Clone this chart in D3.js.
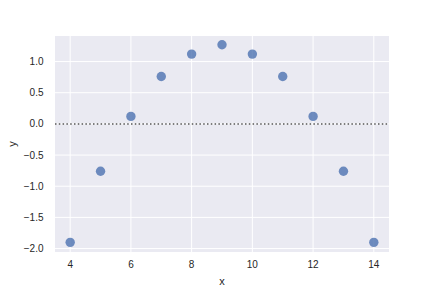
<!DOCTYPE html>
<html lang="en">
<head>
    <meta charset="utf-8">
    <title>Residual plot</title>
    <script src="https://d3js.org/d3.v7.min.js"></script>
    <style>
        html, body { margin: 0; padding: 0; background: white; }
        svg { display: block; font-family: Arial, "Liberation Sans", sans-serif; }
        .tick-label { font-size: 10px; fill: #262626; }
        .axis-label { font-size: 11px; fill: #262626; }
    </style>
</head>
<body>
    <div id="chart"></div>
    <script>
        // Data
        var xValues = [4, 5, 6, 7, 8, 9, 10, 11, 12, 13, 14];
        var yValues = [-1.90, -0.76, 0.12, 0.76, 1.12, 1.27, 1.12, 0.76, 0.12, -0.76, -1.90];
        var xTicks = [4, 6, 8, 10, 12, 14];
        var yTicks = [-2.0, -1.5, -1.0, -0.5, 0.0, 0.5, 1.0];

        var width = 432, height = 288;
        var margin = {top: 36, right: 43, bottom: 36, left: 55};

        var svg = d3.select("#chart").append("svg")
            .attr("width", width)
            .attr("height", height);

        var x = d3.scaleLinear()
            .domain([3.5, 14.5])
            .range([margin.left, width - margin.right]);

        var y = d3.scaleLinear()
            .domain([-2.055, 1.41])
            .range([height - margin.bottom, margin.top]);

        // Axes background
        svg.append("rect")
            .attr("x", margin.left)
            .attr("y", margin.top)
            .attr("width", width - margin.left - margin.right)
            .attr("height", height - margin.top - margin.bottom)
            .attr("fill", "#eaeaf2");

        // Grid lines
        svg.append("g").selectAll("line")
            .data(xTicks)
            .join("line")
            .attr("x1", d => x(d)).attr("x2", d => x(d))
            .attr("y1", margin.top).attr("y2", height - margin.bottom)
            .attr("stroke", "white")
            .attr("stroke-width", 1);

        svg.append("g").selectAll("line")
            .data(yTicks)
            .join("line")
            .attr("x1", margin.left).attr("x2", width - margin.right)
            .attr("y1", d => y(d)).attr("y2", d => y(d))
            .attr("stroke", "white")
            .attr("stroke-width", 1);

        // Tick labels
        svg.append("g").selectAll("text")
            .data(xTicks)
            .join("text")
            .attr("class", "tick-label")
            .attr("x", d => x(d))
            .attr("y", height - margin.bottom + 15.5)
            .attr("text-anchor", "middle")
            .text(d => d);

        svg.append("g").selectAll("text")
            .data(yTicks)
            .join("text")
            .attr("class", "tick-label")
            .attr("x", margin.left - 11.5)
            .attr("y", d => y(d))
            .attr("dy", "0.35em")
            .attr("text-anchor", "end")
            .text(d => d3.format(".1f")(d).replace("-", "\u2212"));

        // Zero reference line
        svg.append("line")
            .attr("x1", margin.left).attr("x2", width - margin.right)
            .attr("y1", y(0)).attr("y2", y(0))
            .attr("stroke", "#555")
            .attr("stroke-width", 1.5)
            .attr("stroke-dasharray", "1.5,2.3");

        // Points
        svg.append("g").selectAll("circle")
            .data(xValues.map((d, i) => ({x: d, y: yValues[i]})))
            .join("circle")
            .attr("cx", d => x(d.x))
            .attr("cy", d => y(d.y))
            .attr("r", 4.7)
            .attr("fill", "#4c72b0")
            .attr("fill-opacity", 0.8);

        // Axis labels
        svg.append("text")
            .attr("class", "axis-label")
            .attr("x", (margin.left + width - margin.right) / 2)
            .attr("y", height - 3)
            .attr("text-anchor", "middle")
            .text("x");

        svg.append("text")
            .attr("class", "axis-label")
            .attr("transform", "translate(16," + ((margin.top + height - margin.bottom) / 2) + ") rotate(-90)")
            .attr("text-anchor", "middle")
            .text("y");
    </script>
</body>
</html>
